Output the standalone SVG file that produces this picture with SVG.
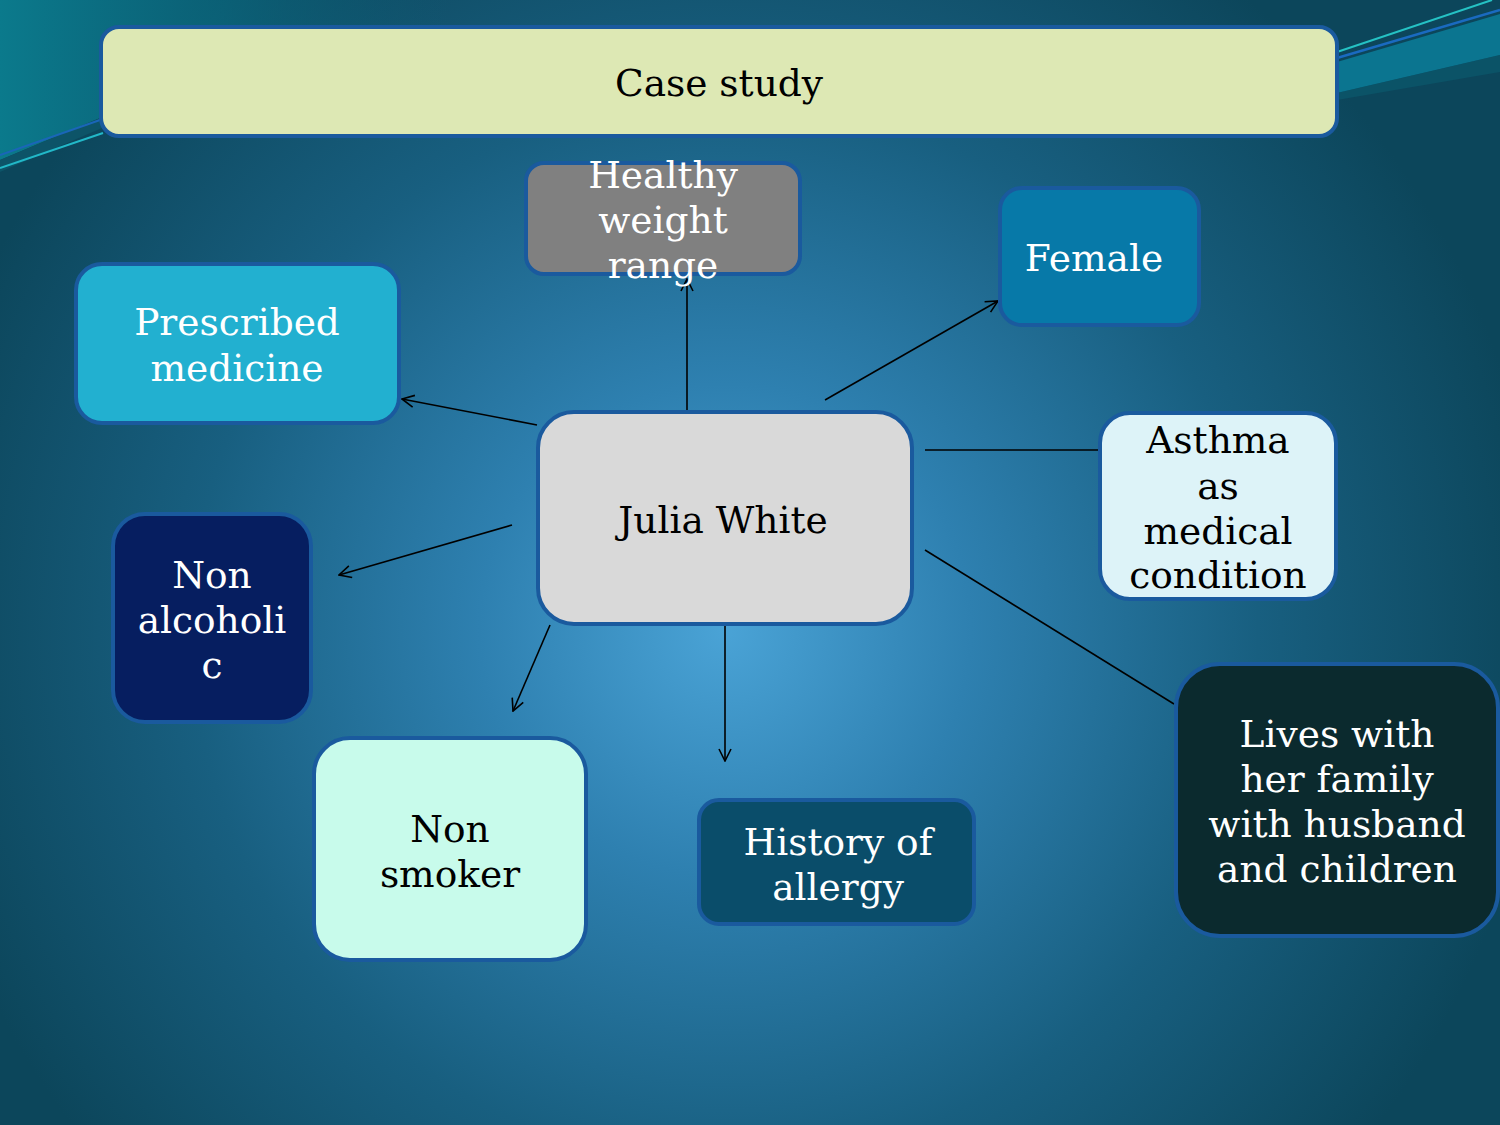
<svg xmlns="http://www.w3.org/2000/svg" width="1500" height="1125" viewBox="0 0 1500 1125">
<defs>
<radialGradient id="bg" gradientUnits="userSpaceOnUse" cx="725" cy="630" r="820">
<stop offset="0" stop-color="#4aa3d6"/>
<stop offset="0.3" stop-color="#2e80b0"/>
<stop offset="0.65" stop-color="#185f80"/>
<stop offset="1" stop-color="#0c465b"/>
</radialGradient>
<linearGradient id="tl" gradientUnits="userSpaceOnUse" x1="0" y1="80" x2="450" y2="80">
<stop offset="0" stop-color="#0b7a8c" stop-opacity="1"/>
<stop offset="0.5" stop-color="#0a6a80" stop-opacity="0.7"/>
<stop offset="1" stop-color="#0a5f78" stop-opacity="0"/>
</linearGradient>
<marker id="arr" viewBox="0 0 14 14" refX="13" refY="7" markerWidth="14" markerHeight="14" markerUnits="userSpaceOnUse" orient="auto">
<path d="M1,1 L13,7 L1,13" fill="none" stroke="#000" stroke-width="1.6"/>
</marker>
<style>
.box{stroke:#1a5a9e;stroke-width:4}
.t{font-family:"DejaVu Serif","Liberation Serif",serif;font-size:37.5px;text-anchor:middle;dominant-baseline:central}
.w{fill:#ffffff}
.k{fill:#000000}
.c{stroke:#000;stroke-width:1.6;fill:none}
</style>
</defs>
<rect width="1500" height="1125" fill="url(#bg)"/>
<path d="M0,0 L450,0 L450,110 L100,118 L0,160 Z" fill="url(#tl)"/>
<path d="M0,160 L100,118 L102,128 L0,172 Z" fill="#0d5468"/>
<path d="M0,155 L100,120" stroke="#1a66b8" stroke-width="2"/>
<path d="M0,168 L103,133" stroke="#22b8c8" stroke-width="2"/>
<path d="M1337,62 L1500,14 L1500,55 L1337,93 Z" fill="#0b7590"/>
<path d="M1337,93 L1500,55 L1500,72 L1337,100 Z" fill="#0a5f74" opacity="0.5"/>
<path d="M1337,52 L1492,0" stroke="#25c2c4" stroke-width="2"/>
<path d="M1337,58 L1500,10" stroke="#1a6ac0" stroke-width="2.5"/>

<g id="connectors">
<line class="c" x1="687" y1="411" x2="687" y2="279" marker-end="url(#arr)"/>
<line class="c" x1="825" y1="400" x2="998" y2="301" marker-end="url(#arr)"/>
<line class="c" x1="537" y1="425" x2="402" y2="399" marker-end="url(#arr)"/>
<line class="c" x1="512" y1="525" x2="339" y2="575" marker-end="url(#arr)"/>
<line class="c" x1="550" y1="625" x2="513" y2="711" marker-end="url(#arr)"/>
<line class="c" x1="725" y1="625" x2="725" y2="761" marker-end="url(#arr)"/>
<line class="c" x1="925" y1="450" x2="1099" y2="450"/>
<line class="c" x1="925" y1="550" x2="1174" y2="704"/>
</g>

<g id="title">
<rect class="box" x="101" y="27" width="1236" height="109" rx="18" fill="#dde8b4"/>
<text class="t k" x="719" y="83">Case study</text>
</g>
<g id="healthy">
<rect class="box" x="526" y="163" width="274" height="111" rx="18" fill="#808080"/>
<text class="t w" x="663" y="175">Healthy</text>
<text class="t w" x="663" y="220">weight</text>
<text class="t w" x="663" y="265">range</text>
</g>
<g id="female">
<rect class="box" x="1000" y="188" width="199" height="137" rx="22" fill="#0779a8"/>
<text class="t w" x="1094" y="258">Female</text>
</g>
<g id="prescribed">
<rect class="box" x="76" y="264" width="323" height="159" rx="26" fill="#22b0d0"/>
<text class="t w" x="237" y="322">Prescribed</text>
<text class="t w" x="237" y="368">medicine</text>
</g>
<g id="julia">
<rect class="box" x="538" y="412" width="374" height="212" rx="36" fill="#d9d9d9"/>
<text class="t k" x="723" y="520">Julia White</text>
</g>
<g id="asthma">
<rect class="box" x="1100" y="413" width="236" height="186" rx="30" fill="#ddf3f8"/>
<text class="t k" x="1218" y="440">Asthma</text>
<text class="t k" x="1218" y="486">as</text>
<text class="t k" x="1218" y="531">medical</text>
<text class="t k" x="1218" y="575">condition</text>
</g>
<g id="nonalcoholic">
<rect class="box" x="113" y="514" width="198" height="208" rx="32" fill="#061e60"/>
<text class="t w" x="212" y="575">Non</text>
<text class="t w" x="212" y="620">alcoholi</text>
<text class="t w" x="212" y="665">c</text>
</g>
<g id="nonsmoker">
<rect class="box" x="314" y="738" width="272" height="222" rx="36" fill="#c8fbeb"/>
<text class="t k" x="450" y="829">Non</text>
<text class="t k" x="450" y="874">smoker</text>
</g>
<g id="allergy">
<rect class="box" x="699" y="800" width="275" height="124" rx="20" fill="#0a4d6a"/>
<text class="t w" x="838" y="842">History of</text>
<text class="t w" x="838" y="887">allergy</text>
</g>
<g id="lives">
<rect class="box" x="1176" y="664" width="322" height="272" rx="44" fill="#0b2a2e"/>
<text class="t w" x="1337" y="734">Lives with</text>
<text class="t w" x="1337" y="779">her family</text>
<text class="t w" x="1337" y="824">with husband</text>
<text class="t w" x="1337" y="869">and children</text>
</g>
</svg>
